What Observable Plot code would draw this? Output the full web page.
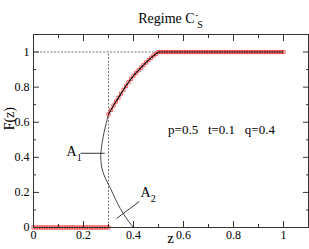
<!DOCTYPE html>
<html>
<head>
<meta charset="utf-8">
<script src="https://cdn.jsdelivr.net/npm/d3@7"></script>
<script src="https://cdn.jsdelivr.net/npm/@observablehq/plot@0.6"></script>
<style>
  html, body { margin: 0; padding: 0; background: #fff; }
  #chart svg, #chart svg text { font-family: "Liberation Serif", "Times New Roman", serif !important; }
</style>
</head>
<body>
<div id="chart"></div>
<script>
// ---- data ----
const zLow = [0.00,0.01,0.02,0.03,0.04,0.05,0.06,0.07,0.08,0.09,0.10,0.11,0.12,0.13,0.14,0.15,0.16,0.17,0.18,0.19,0.20,0.21,0.22,0.23,0.24,0.25,0.26,0.27,0.28,0.29,0.30];
const fLow = [0,0,0,0,0,0,0,0,0,0,0,0,0,0,0,0,0,0,0,0,0,0,0,0,0,0,0,0,0,0,0];
const zCurve = [0.30,0.31,0.32,0.33,0.34,0.35,0.36,0.37,0.38,0.39,0.40,0.41,0.42,0.43,0.44,0.45,0.46,0.47,0.48,0.49,0.50];
const fCurve = [0.645,0.670,0.695,0.718,0.740,0.763,0.785,0.807,0.828,0.847,0.865,0.881,0.896,0.911,0.925,0.940,0.954,0.967,0.979,0.990,1.000];
const zHigh = [0.51,0.52,0.53,0.54,0.55,0.56,0.57,0.58,0.59,0.60,0.61,0.62,0.63,0.64,0.65,0.66,0.67,0.68,0.69,0.70,0.71,0.72,0.73,0.74,0.75,0.76,0.77,0.78,0.79,0.80,0.81,0.82,0.83,0.84,0.85,0.86,0.87,0.88,0.89,0.90,0.91,0.92,0.93,0.94,0.95,0.96,0.97,0.98,0.99,1.00];
const fHigh = [1,1,1,1,1,1,1,1,1,1,1,1,1,1,1,1,1,1,1,1,1,1,1,1,1,1,1,1,1,1,1,1,1,1,1,1,1,1,1,1,1,1,1,1,1,1,1,1,1,1];

// continuation arc (A1 / A2 branch)
const arcZ = [0.300,0.290,0.281,0.274,0.270,0.269,0.271,0.277,0.287,0.300,0.317,0.336,0.358,0.380,0.400];
const arcF = [0.645,0.590,0.535,0.480,0.430,0.400,0.360,0.320,0.282,0.245,0.195,0.137,0.082,0.036,0.000];

// reference (dotted) lines
const refZ = 0.3, refF = 1, plateauZ = 0.5;

// labels
const labelA1 = {z: 0.132, F: 0.434, sub: "1"};
const leaderA1 = {z1: 0.188, F1: 0.423, z2: 0.285, F2: 0.423};
const labelA2 = {z: 0.428, F: 0.200, sub: "2"};
const leaderA2 = {z1: 0.424, F1: 0.149, z2: 0.332, F2: 0.051};
const paramText = "p=0.5\u00a0\u00a0\u00a0t=0.1\u00a0\u00a0\u00a0q=0.4";
const paramPos = {z: 0.752, F: 0.554};

const xTicks = [0, 0.2, 0.4, 0.6, 0.8, 1];
const yTicks = [0, 0.2, 0.4, 0.6, 0.8, 1];
const xMinor = [0.1, 0.3, 0.5, 0.7, 0.9];
const yMinor = [0.1, 0.3, 0.5, 0.7, 0.9];
const tickLabel = d => String(d);

// ---- build tables ----
const markers = [
  ...zLow.map((z, i) => ({z, F: fLow[i]})),
  ...zCurve.map((z, i) => ({z, F: fCurve[i]})),
  ...zHigh.map((z, i) => ({z, F: fHigh[i]}))
];
const blackLine = [
  ...zLow.map((z, i) => ({z, F: fLow[i], s: "low"})),
  ...zCurve.map((z, i) => ({z, F: fCurve[i], s: "up"})),
  ...zHigh.map((z, i) => ({z, F: fHigh[i], s: "up"}))
];
const arc = arcZ.map((z, i) => ({z, F: arcF[i]}));

const serif = "Liberation Serif, Times New Roman, serif";
const frameColor = "#333";

const chart = Plot.plot({
  width: 309,
  height: 249,
  marginLeft: 33,
  marginRight: 1,
  marginTop: 34,
  marginBottom: 22,
  x: {domain: [0, 1.1], label: null},
  y: {domain: [0, 1.1], label: null},
  style: {fontFamily: serif, fontSize: "12px", background: "#fff", color: "#000"},
  marks: [
    // dotted guides
    Plot.ruleY([refF], {x1: 0, x2: plateauZ, stroke: "#777", strokeWidth: 1, strokeDasharray: "2,1.5"}),
    Plot.ruleX([refZ], {y1: 0, y2: refF, stroke: "#777", strokeWidth: 1, strokeDasharray: "2,1.5"}),
    // arc
    Plot.line(arc, {x: "z", y: "F", curve: "natural", stroke: "#333", strokeWidth: 0.9}),
    // leaders
    Plot.link([leaderA1, leaderA2], {x1: "z1", y1: "F1", x2: "z2", y2: "F2", stroke: "#222", strokeWidth: 0.9}),
    // red markers
    Plot.dot(markers, {x: "z", y: "F", symbol: "square", r: 1.8, stroke: "#ff3333", fill: "none", strokeWidth: 0.8}),
    // black theory line
    Plot.line(blackLine, {x: "z", y: "F", z: "s", stroke: "#000", strokeWidth: 1.1}),
    // frame
    Plot.frame({stroke: frameColor, strokeWidth: 1}),
    // inward ticks (major)
    Plot.axisX(xTicks, {anchor: "bottom", tickSize: -6, tickFormat: () => "", stroke: frameColor, label: null}),
    Plot.axisX(xTicks, {anchor: "top", tickSize: -6, tickFormat: () => "", stroke: frameColor, label: null}),
    Plot.axisY(yTicks, {anchor: "left", tickSize: -6, tickFormat: () => "", stroke: frameColor, label: null}),
    Plot.axisY(yTicks, {anchor: "right", tickSize: -6, tickFormat: () => "", stroke: frameColor, label: null}),
    // inward ticks (minor)
    Plot.axisX(xMinor, {anchor: "bottom", tickSize: -3, tickFormat: () => "", stroke: frameColor, label: null}),
    Plot.axisX(xMinor, {anchor: "top", tickSize: -3, tickFormat: () => "", stroke: frameColor, label: null}),
    Plot.axisY(yMinor, {anchor: "left", tickSize: -3, tickFormat: () => "", stroke: frameColor, label: null}),
    Plot.axisY(yMinor, {anchor: "right", tickSize: -3, tickFormat: () => "", stroke: frameColor, label: null}),
    // tick labels
    Plot.axisX(xTicks, {anchor: "bottom", tickSize: 0, tickPadding: 3, tickFormat: tickLabel, fontSize: 12, fontFamily: serif, label: null}),
    Plot.axisY(yTicks, {anchor: "left", tickSize: 0, tickPadding: 4, tickFormat: tickLabel, fontSize: 12, fontFamily: serif, label: null}),
    // axis titles
    Plot.text(["z"], {frameAnchor: "bottom", x: () => 0.548, dy: 15, fontSize: 15, fontFamily: serif, text: d => d}),
    Plot.text(["F(z)"], {frameAnchor: "left", y: () => 0.554, dx: -24, rotate: -90, fontSize: 14, fontFamily: serif, text: d => d}),
    // chart title
    Plot.text(["Regime C"], {frameAnchor: "top", x: () => 0.548, dy: -21, fontSize: 14, fontFamily: serif, text: d => d}),
    // annotation labels
    Plot.text([labelA1, labelA2], {x: "z", y: "F", text: () => "A", textAnchor: "start", fontSize: 14, fontFamily: serif}),
    Plot.text([paramPos], {x: "z", y: "F", text: () => paramText, fontSize: 13, fontFamily: serif})
  ]
});

document.getElementById("chart").appendChild(chart);

// add super/subscripts as real text tspans
const svg = d3.select(chart);
svg.selectAll("text").filter(function () { return this.textContent === "Regime C"; }).each(function () {
  const t = d3.select(this);
  t.append("tspan").attr("font-size", 9).attr("dy", -5).attr("dx", 0.5).text("-");
  t.append("tspan").attr("font-size", 10).attr("dy", 10).attr("dx", -1).text("S");
});
const subs = [labelA1.sub, labelA2.sub];
let k = 0;
svg.selectAll("text").filter(function () { return this.textContent === "A"; }).each(function () {
  d3.select(this).append("tspan").attr("font-size", 10).attr("dy", 5).text(subs[k++] || "");
});
</script>
</body>
</html>
